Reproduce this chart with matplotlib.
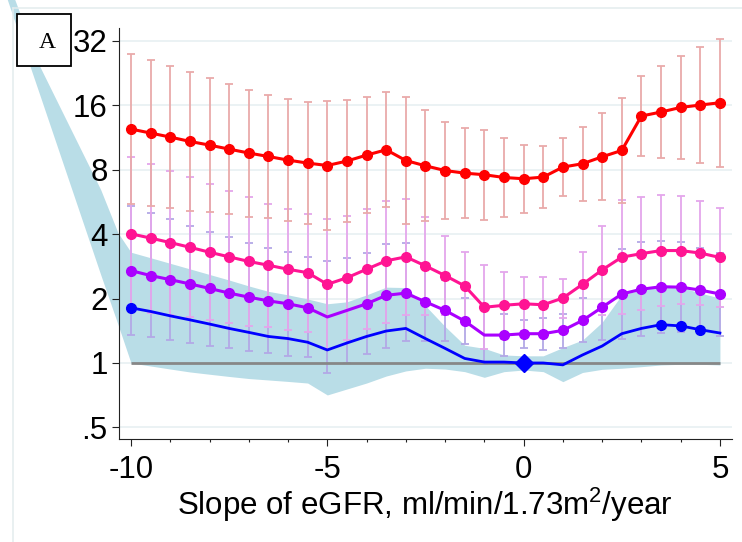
import numpy as np
import matplotlib
matplotlib.use("Agg")
import matplotlib.pyplot as plt
from matplotlib.patches import Rectangle
from matplotlib.lines import Line2D

plt.rcParams['font.family'] = ['Liberation Sans', 'DejaVu Sans']
plt.rcParams['mathtext.fontset'] = 'custom'
plt.rcParams['mathtext.rm'] = 'Liberation Sans'

# slope of eGFR (ml/min/1.73m2/year)
slope = [-10, -9.5, -9, -8.5, -8, -7.5, -7, -6.5, -6, -5.5, -5, -4.5, -4, -3.5, -3, -2.5,
         -2, -1.5, -1, -0.5, 0, 0.5, 1, 1.5, 2, 2.5, 3, 3.5, 4, 4.5, 5]

red = [12.37, 11.85, 11.35, 10.83, 10.41, 9.97, 9.56, 9.21, 8.86, 8.58, 8.36, 8.77, 9.35, 9.90, 8.82, 8.33,
       7.92, 7.70, 7.57, 7.35, 7.25, 7.38, 8.22, 8.52, 9.18, 9.83, 14.23, 14.86, 15.61, 16.02, 16.42]
red_hi = [27.7, 26.0, 24.45, 22.93, 21.33, 20.09, 18.89, 17.76, 17.09, 16.48, 16.78, 16.96, 17.38, 18.35, 17.38, 15.11,
          13.38, 12.50, 12.28, 11.27, 10.45, 10.34, 11.23, 12.68, 14.70, 17.33, 21.96, 24.45, 27.23, 29.90, 32.7]
red_lo = [5.52, 5.40, 5.27, 5.11, 5.08, 4.95, 4.83, 4.77, 4.60, 4.47, 4.17, 4.53, 5.03, 5.34, 4.48, 4.59,
          4.69, 4.75, 4.66, 4.79, 5.02, 5.27, 6.02, 5.72, 5.74, 5.58, 9.22, 9.03, 8.94, 8.59, 8.24]

pink = [4.01, 3.83, 3.65, 3.47, 3.29, 3.13, 2.98, 2.86, 2.74, 2.64, 2.33, 2.50, 2.74, 3.00, 3.13, 2.84,
        2.56, 2.29, 1.82, 1.86, 1.89, 1.87, 2.01, 2.33, 2.72, 3.12, 3.24, 3.35, 3.35, 3.26, 3.11]
pink_hi = [9.15, 8.52, 7.92, 7.38, 6.84, 6.37, 5.93, 5.54, 5.23, 4.97, 4.71, 4.88, 5.23, 5.68, 5.84, 4.80,
           3.92, 3.30, 2.87, 2.67, 2.53, 2.53, 2.47, 3.31, 4.34, 5.74, 5.99, 6.10, 6.03, 5.68, 5.32]
pink_lo = [1.76, 1.72, 1.68, 1.64, 1.58, 1.54, 1.49, 1.48, 1.43, 1.39, 1.16, 1.28, 1.44, 1.54, 1.67, 1.68,
           1.68, 1.59, 1.16, 1.29, 1.41, 1.37, 1.62, 1.64, 1.68, 1.69, 1.77, 1.85, 1.89, 1.87, 1.82]

purple = [2.70, 2.56, 2.45, 2.34, 2.23, 2.12, 2.03, 1.95, 1.89, 1.81, 1.64, 1.76, 1.89, 2.07, 2.12, 1.93,
          1.76, 1.57, 1.35, 1.35, 1.37, 1.37, 1.42, 1.58, 1.82, 2.10, 2.21, 2.27, 2.26, 2.19, 2.10]
purple_hi = [5.42, 5.04, 4.70, 4.38, 4.11, 3.87, 3.65, 3.45, 3.29, 3.12, 2.98, 3.09, 3.28, 3.60, 3.63, 2.94,
             2.44, 2.02, 1.85, 1.69, 1.59, 1.62, 1.69, 2.01, 2.60, 3.41, 3.67, 3.73, 3.67, 3.44, 3.26]
purple_lo = [1.35, 1.32, 1.28, 1.24, 1.20, 1.17, 1.14, 1.11, 1.08, 1.07, 0.90, 1.00, 1.10, 1.18, 1.26, 1.27,
             1.27, 1.22, 0.99, 1.08, 1.18, 1.15, 1.17, 1.25, 1.28, 1.29, 1.33, 1.38, 1.40, 1.44, 1.34]

blue = [1.81, 1.74, 1.66, 1.59, 1.52, 1.45, 1.39, 1.33, 1.30, 1.25, 1.15, 1.24, 1.33, 1.41, 1.45, 1.30,
        1.17, 1.05, 1.01, 1.01, 1.00, 1.00, 0.98, 1.09, 1.20, 1.37, 1.45, 1.51, 1.49, 1.43, 1.38]
band_hi = [3.29, 3.10, 2.92, 2.75, 2.59, 2.44, 2.29, 2.16, 2.08, 1.99, 1.89, 1.93, 2.08, 2.26, 2.25, 1.85,
           1.48, 1.21, 1.17, 1.09, 1.08, 1.08, 1.18, 1.28, 1.55, 2.08, 2.19, 2.27, 2.26, 2.12, 2.01]
band_lo = [1.00, 0.968, 0.937, 0.908, 0.886, 0.865, 0.846, 0.833, 0.820, 0.806, 0.709, 0.756, 0.806, 0.869, 0.918, 0.945,
           0.937, 0.911, 0.857, 0.911, 0.927, 0.911, 0.818, 0.903, 0.934, 0.945, 0.961, 0.979, 0.986, 0.986, 0.979]

# band goes on left of the axis range
band_ext_x = [-13.6, -12.96, -12.32, -10.77, -10.33]
band_ext_hi = [102, 49.8, 24.2, 6.44, 4.05]
band_ext_lo = [87, 39.3, 17.8, 2.58, 1.51]

# markers only where the estimate is drawn as significant
purple_marks = [i for i in range(len(slope)) if i not in (10, 11, 18)]
blue_marks = [0, 27, 28, 29]

ytick_vals = [0.5, 1, 2, 4, 8, 16, 32]
ytick_labels = ['.5', '1', '2', '4', '8', '16', '32']
xtick_vals = [-10, -5, 0, 5]
xtick_labels = ['-10', '-5', '0', '5']

W, H = 742, 542
fig = plt.figure(figsize=(W / 100, H / 100), dpi=100)
ax = fig.add_axes([118.7 / W, (H - 439.3) / H, (731.7 - 118.7) / W, (439.3 - 28.3) / H])
ax.set_facecolor('none')

ax.set_yscale('log', base=2)
ax.set_xlim(-10.313, 5.30)
ax.set_ylim(2 ** -1.184, 2 ** 5.192)

for v in ytick_vals:
    ax.axhline(v, color='#e6eff1', lw=1.1, zorder=0.5)

bx = band_ext_x + slope
bhi = band_ext_hi + band_hi
blo = band_ext_lo + band_lo
ax.fill_between(bx, blo, bhi, color='#b9dde7', lw=0, zorder=1, clip_on=False)


def ci_bars(y, lo, hi, col, z):
    y = np.array(y)
    err = [y - np.array(lo), np.array(hi) - y]
    ax.errorbar(slope, y, yerr=err, fmt='none', ecolor=col, elinewidth=1.3,
                capsize=2.8, capthick=1.3, zorder=z)


ci_bars(purple, purple_lo, purple_hi, '#b3a8e6', 2)
ci_bars(pink, pink_lo, pink_hi, '#e4a6ec', 2.1)
ci_bars(red, red_lo, red_hi, '#e9aaaa', 2.2)

ax.plot([slope[0], slope[-1]], [1, 1], color='#878787', lw=2.0, zorder=3, solid_capstyle='butt')

ax.plot(slope, red, color='#ff0000', lw=2.2, marker='o', ms=7, zorder=4)
ax.plot(slope, pink, color='#ff1493', lw=2.2, marker='o', ms=7, zorder=4)
ax.plot(slope, purple, color='#aa00ff', lw=2.2, marker='o', ms=7, markevery=purple_marks, zorder=4)
ax.plot(slope, blue, color='#0000ff', lw=2.0, marker='o', ms=7, markevery=blue_marks, zorder=4)
ax.plot([0], [1], marker='D', color='#0000ff', ms=9.0, zorder=5, ls='none')

ax.set_yticks(ytick_vals)
ax.set_yticklabels(ytick_labels)
ax.yaxis.set_minor_locator(matplotlib.ticker.NullLocator())
ax.set_xticks(xtick_vals)
ax.set_xticklabels(xtick_labels)
ax.set_xticks(range(-10, 6), minor=True)
ax.tick_params(axis='both', which='major', labelsize=22.5, length=5, width=0.8, color='#222222')
ax.tick_params(axis='y', which='major', pad=3)
ax.tick_params(axis='x', which='major', pad=6)
ax.tick_params(axis='x', which='minor', length=2.5, width=0.8, color='#222222')

for s in ['top', 'right']:
    ax.spines[s].set_visible(False)
for s in ['left', 'bottom']:
    ax.spines[s].set_linewidth(0.8)
    ax.spines[s].set_color('#222222')

ax.set_xlabel(r'Slope of eGFR, ml/min/1.73m$^2$/year', fontsize=22.5, labelpad=1)

# outer frame (left and top only visible)
fig.add_artist(Line2D([13 / W, 13 / W], [0, (H - 8) / H], color='#e3ecee', lw=1.1, zorder=0.1))
fig.add_artist(Line2D([13 / W, 1], [(H - 8) / H, (H - 8) / H], color='#e3ecee', lw=1.1, zorder=0.1))

# panel letter
fig.add_artist(Rectangle((16.7 / W, (H - 66) / H), 54.3 / W, 52 / H, transform=fig.transFigure,
                         facecolor='white', edgecolor='black', lw=1.3, zorder=10))
fig.text(47 / W, (H - 42) / H, 'A', family='Liberation Serif', fontsize=17, ha='center', va='center', zorder=11)

fig.savefig('out.png', dpi=100)
